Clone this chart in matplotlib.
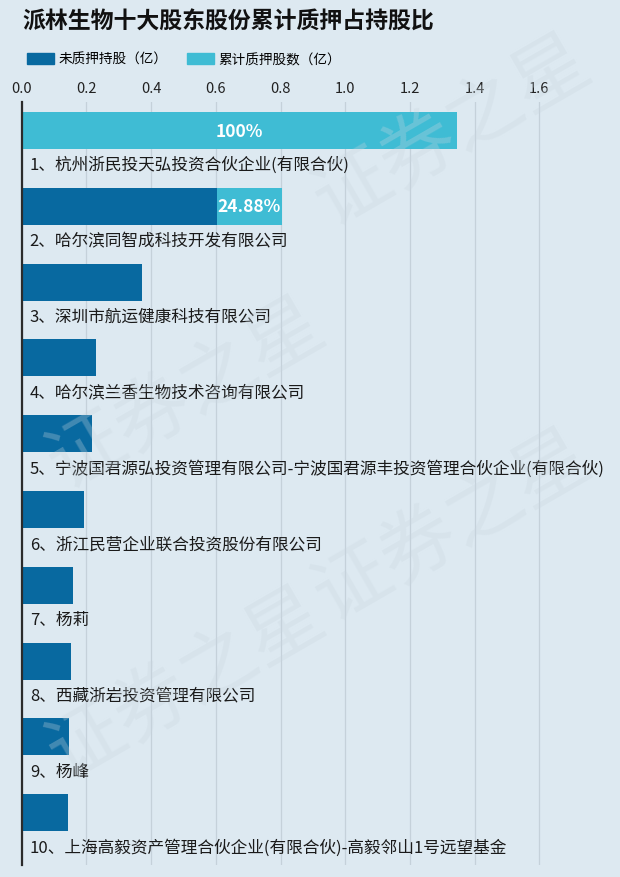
import numpy as np
import matplotlib.pyplot as plt
from matplotlib.patches import Patch

plt.rcParams['font.family'] = ['Noto Sans CJK SC', 'DejaVu Sans']

# Data (亿股)
holders = [
    "1、杭州浙民投天弘投资合伙企业(有限合伙)",
    "2、哈尔滨同智成科技开发有限公司",
    "3、深圳市航运健康科技有限公司",
    "4、哈尔滨兰香生物技术咨询有限公司",
    "5、宁波国君源弘投资管理有限公司-宁波国君源丰投资管理合伙企业(有限合伙)",
    "6、浙江民营企业联合投资股份有限公司",
    "7、杨莉",
    "8、西藏浙岩投资管理有限公司",
    "9、杨峰",
    "10、上海高毅资产管理合伙企业(有限合伙)-高毅邻山1号远望基金",
]
unpledged = [0.0, 0.604, 0.372, 0.230, 0.216, 0.192, 0.160, 0.152, 0.146, 0.143]
pledged = [1.346, 0.200, 0, 0, 0, 0, 0, 0, 0, 0]
xticks = [0.0, 0.2, 0.4, 0.6, 0.8, 1.0, 1.2, 1.4, 1.6]

dark = "#0869a0"
light = "#3fbcd4"
bg = "#dde9f1"

W, H = 620, 878
fig = plt.figure(figsize=(W / 100, H / 100), dpi=100, facecolor=bg)

# axes placed in pixel terms
left, right, top, bottom = 21.7, 604, 103, 866
ax = fig.add_axes([left / W, 1 - bottom / H, (right - left) / W, (bottom - top) / H])
ax.set_facecolor(bg)

y = np.arange(len(holders))
ax.barh(y, unpledged, height=0.49, color=dark, zorder=3)
ax.barh(y, pledged, left=unpledged, height=0.49, color=light, zorder=3)

for i in range(len(holders)):
    total = unpledged[i] + pledged[i]
    if pledged[i] > 0:
        ax.text(unpledged[i] + pledged[i] / 2, y[i], f"{pledged[i] / total * 100:.4g}%",
                ha="center", va="center", color="white", fontsize=12.5,
                fontweight="bold", zorder=4)
    ax.text(0.025, y[i] + 0.45, holders[i], ha="left", va="center",
            fontsize=12, color="#1a1a1a", zorder=4)

ax.set_xlim(0, 1.8)
ax.set_ylim(9.69, -0.376)
ax.set_xticks(xticks)
ax.set_xticklabels([f"{t:.1f}" for t in xticks])
ax.xaxis.tick_top()
ax.tick_params(axis="x", length=0, pad=5, labelsize=10.5, labelcolor="#222222")
ax.set_yticks([])
ax.grid(axis="x", color="#c5d1da", linewidth=0.9, zorder=0)
for s in ["top", "right", "bottom"]:
    ax.spines[s].set_visible(False)
ax.spines["left"].set_color("#2b2b2b")
ax.spines["left"].set_linewidth(1.6)
ax.spines["left"].set_zorder(5)

# watermark
for (wx, wy) in [(0.3, 0.22), (0.3, 0.55), (0.73, 0.40), (0.73, 0.85)]:
    fig.text(wx, wy, "证券之星", fontsize=55, color="#c9d6df", alpha=0.3,
             rotation=30, ha="center", va="center", zorder=0)

fig.text(22 / W, 1 - 22 / H, "派林生物十大股东股份累计质押占持股比", fontsize=16.5,
         fontweight="bold", color="#111111", ha="left", va="center")

handles = [Patch(color=dark, label="未质押持股（亿）"), Patch(color=light, label="累计质押股数（亿）")]
fig.legend(handles=handles, loc="center left", bbox_to_anchor=(15 / W, 1 - 60 / H), ncol=2,
           frameon=False, fontsize=9.8, handlelength=2.0, handleheight=0.9,
           handletextpad=0.3, columnspacing=1.4)

fig.savefig("out.png", dpi=100, facecolor=bg)
